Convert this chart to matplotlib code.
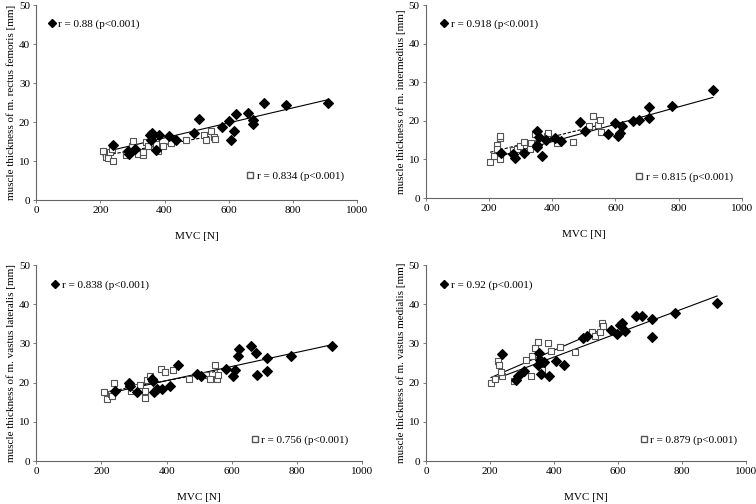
#!/usr/bin/env python3

import numpy as np
from matplotlib import pyplot as plt
from matplotlib.lines import Line2D

plt.rcParams['font.family'] = ['Liberation Serif', 'DejaVu Serif']

# --- data (MVC [N], thickness [mm]) ---
# rectus femoris
rf_x_fill = [239, 286, 288, 309, 355, 357, 360, 365, 374, 384, 413, 436, 492, 507,
             580, 601, 609, 617, 622, 659, 676, 675, 710, 780, 910]
rf_y_fill = [14.0, 12.5, 11.9, 13.2, 16.8, 15.5, 17.2, 16.8, 12.9, 16.7, 16.5, 15.3,
             17.2, 20.9, 18.7, 20.4, 15.4, 17.6, 22.1, 22.4, 20.6, 19.6, 25.0, 24.4, 25.0]
rf_x_open = [207, 218, 225, 231, 236, 239, 281, 298, 303, 316, 333, 333, 342, 350,
             373, 381, 394, 420, 468, 522, 530, 546, 553, 558]
rf_y_open = [12.5, 11.0, 10.9, 12.2, 13.1, 10.0, 11.5, 13.8, 15.1, 11.8, 11.5, 12.2,
             14.8, 13.8, 14.4, 12.7, 13.9, 14.6, 15.5, 16.8, 15.5, 17.8, 16.2, 15.6]

# intermedius
vi_x_fill = [237, 276, 282, 309, 351, 351, 353, 359, 369, 381, 408, 429, 487, 503,
             576, 599, 608, 615, 620, 656, 674, 707, 707, 779, 909]
vi_y_fill = [11.8, 11.3, 10.3, 11.8, 13.7, 13.2, 17.5, 15.8, 10.8, 15.1, 15.5, 14.7,
             19.6, 17.5, 16.6, 19.5, 16.2, 16.8, 18.6, 19.9, 20.3, 23.7, 20.7, 23.9, 27.9]
vi_x_open = [203, 215, 224, 225, 234, 235, 234, 277, 288, 299, 311, 330, 334, 328,
             345, 382, 388, 415, 466, 517, 528, 544, 550, 554]
vi_y_open = [9.4, 11.0, 13.8, 12.7, 15.5, 16.0, 10.2, 12.5, 12.6, 13.6, 14.6, 13.9,
             14.2, 12.7, 16.7, 16.1, 16.8, 14.2, 14.5, 18.7, 21.2, 18.9, 20.1, 17.2]

# vastus lateralis
vl_x_fill = [242, 285, 289, 309, 355, 358, 362, 370, 386, 411, 434, 493, 506, 581,
             603, 609, 618, 622, 660, 674, 677, 708, 708, 782, 909]
vl_y_fill = [17.8, 19.9, 19.1, 17.6, 20.9, 20.5, 17.7, 18.4, 18.4, 19.1, 24.4, 22.3,
             21.8, 23.5, 21.6, 23.3, 26.9, 28.6, 29.3, 27.6, 22.0, 26.4, 23.1, 26.7, 29.3]
vl_x_open = [207, 218, 230, 232, 239, 282, 290, 304, 317, 333, 333, 340, 350, 384,
             395, 421, 469, 522, 532, 548, 555, 558]
vl_y_open = [17.5, 15.7, 17.1, 16.6, 20.0, 19.5, 17.8, 18.8, 19.5, 17.9, 16.0, 20.8,
             21.6, 23.5, 22.7, 23.3, 21.0, 22.0, 20.9, 24.4, 21.0, 22.0]

# vastus medialis
vm_x_fill = [236, 282, 286, 307, 349, 354, 356, 359, 370, 383, 407, 432, 490, 503,
             578, 597, 606, 613, 620, 657, 675, 706, 706, 779, 909]
vm_y_fill = [27.3, 20.7, 21.6, 23.1, 24.4, 27.6, 25.9, 22.2, 25.2, 21.8, 25.4, 24.4,
             31.3, 32.0, 33.4, 32.5, 34.6, 35.2, 33.2, 37.0, 37.0, 36.2, 31.7, 37.9, 40.3]
vm_x_open = [203, 216, 224, 228, 236, 235, 276, 297, 313, 328, 330, 341, 349, 363,
             380, 390, 417, 464, 518, 529, 544, 550, 554]
vm_y_open = [20.0, 21.0, 25.5, 24.4, 21.8, 22.8, 20.5, 22.5, 25.9, 21.8, 26.7, 28.9,
             30.5, 23.3, 30.0, 28.2, 29.2, 27.8, 33.0, 31.8, 32.8, 35.2, 34.4]

muscles = ['rectus femoris', 'intermedius', 'vastus lateralis', 'vastus medialis']
r_fill = ['0.88', '0.918', '0.838', '0.92']
r_open = ['0.834', '0.815', '0.756', '0.879']

panels = [
    (rf_x_fill, rf_y_fill, rf_x_open, rf_y_open, '--'),
    (vi_x_fill, vi_y_fill, vi_x_open, vi_y_open, '--'),
    (vl_x_fill, vl_y_fill, vl_x_open, vl_y_open, '--'),
    (vm_x_fill, vm_y_fill, vm_x_open, vm_y_open, '-'),
]

# axes boxes [left, bottom, width, height] in figure fraction
boxes = [
    [0.048, 0.603, 0.424, 0.387],
    [0.5635, 0.607, 0.4175, 0.383],
    [0.048, 0.0853, 0.431, 0.3887],
    [0.5635, 0.0853, 0.4235, 0.3887],
]
# legend anchors (axes fraction)
top_anchor = [(0.02, 0.955), (0.03, 0.955), (0.03, 0.95), (0.03, 0.95)]
bot_anchor = [(0.977, 0.068), (0.99, 0.055), (0.976, 0.055), (0.99, 0.055)]


def trend(ax, x, y, ls):
    x = np.asarray(x, float)
    y = np.asarray(y, float)
    b, a = np.polyfit(x, y, 1)
    xs = np.array([x.min(), x.max()])
    ax.plot(xs, a + b * xs, color='black', lw=0.8, ls=ls,
            dashes=(3, 1.5) if ls == '--' else (None, None), zorder=1)


def main():
    fig = plt.figure(figsize=(7.56, 5.04), dpi=100)
    for i, (xf, yf, xo, yo, ls) in enumerate(panels):
        ax = fig.add_axes(boxes[i])
        ax.scatter(xo, yo, marker='s', s=22, facecolor='white',
                   edgecolor='#555555', linewidth=0.8, zorder=2)
        ax.scatter(xf, yf, marker='D', s=24, color='black', zorder=3)
        trend(ax, xf, yf, '-')
        trend(ax, xo, yo, ls)

        ax.set_xlim(0, 1000)
        ax.set_ylim(0, 50)
        ax.set_xticks(np.arange(0, 1001, 200))
        ax.set_yticks(np.arange(0, 51, 10))
        for s in ['top', 'right']:
            ax.spines[s].set_visible(False)
        for s in ['left', 'bottom']:
            ax.spines[s].set_color('#666666')
            ax.spines[s].set_linewidth(0.8)
        ax.tick_params(labelsize=8, length=2.5, width=0.6, color='#666666', pad=2)
        ax.set_xlabel('MVC [N]', fontsize=8, labelpad=12)
        ax.set_ylabel('muscle thickness of m. ' + muscles[i] + ' [mm]', fontsize=8, labelpad=2)

        h1 = Line2D([], [], marker='D', ls='none', color='black', markersize=4.5)
        h2 = Line2D([], [], marker='s', ls='none', markerfacecolor='white',
                    markeredgecolor='#555555', markersize=4.5)
        leg1 = ax.legend([h1], ['r = %s (p<0.001)' % r_fill[i]], loc='upper left',
                         bbox_to_anchor=top_anchor[i], frameon=False, fontsize=8,
                         handlelength=0.6, handletextpad=0.3, borderpad=0)
        ax.add_artist(leg1)
        ax.legend([h2], ['r = %s (p<0.001)' % r_open[i]], loc='lower right',
                  bbox_to_anchor=bot_anchor[i], frameon=False, fontsize=8,
                  handlelength=0.6, handletextpad=0.3, borderpad=0)

    fig.savefig('out.png', dpi=100)


if __name__ == '__main__':
    main()
